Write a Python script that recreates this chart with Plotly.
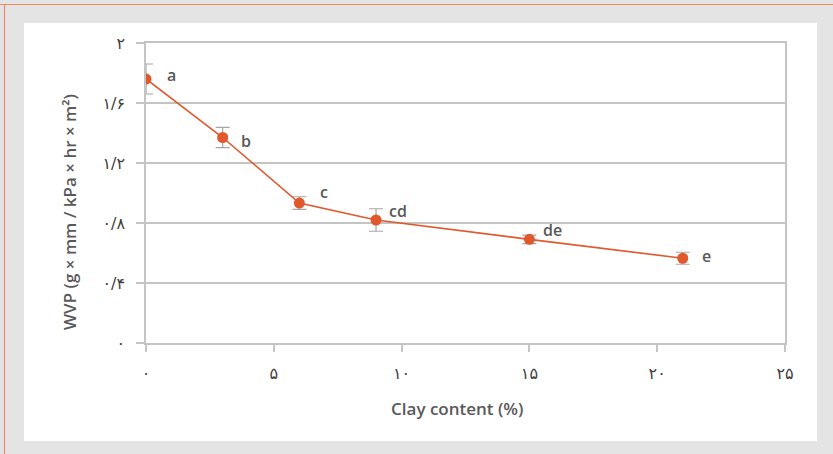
import plotly.graph_objects as go

clay = [0, 3, 6, 9, 15, 21]
wvp = [1.76, 1.37, 0.933, 0.82, 0.691, 0.565]
wvp_err = [0.10, 0.067, 0.042, 0.075, 0.028, 0.04]
letters = ["a", "b", "c", "cd", "de", "e"]
label_shift = [(25, 4), (23, -3), (25, 11), (22, 9), (23, 9), (24, 2)]

x_tickvals = [0, 5, 10, 15, 20, 25]
x_ticktext = ["۰", "۵", "۱۰", "۱۵", "۲۰", "۲۵"]
y_tickvals = [0, 0.4, 0.8, 1.2, 1.6, 2.0]
y_ticktext = ["۰", "۰/۴", "۰/۸", "۱/۲", "۱/۶", "۲"]
x_title = "Clay content (%)"
y_title = "WVP (g × mm / kPa × hr × m²)"

orange = "#e0582b"
grid = "#c4c4c4"
txt = "#595959"

fig = go.Figure()
fig.add_trace(go.Scatter(
    x=clay, y=wvp, mode="lines+markers",
    line=dict(color=orange, width=1.6),
    marker=dict(color=orange, size=11),
    error_y=dict(type="data", array=wvp_err, visible=True,
                 color="#a6a6a6", thickness=1.2, width=7),
    showlegend=False, hoverinfo="x+y",
))

for xv, yv, lab, (dx, dy) in zip(clay, wvp, letters, label_shift):
    fig.add_annotation(x=xv, y=yv, text=lab, showarrow=False,
                       xshift=dx, yshift=dy,
                       font=dict(family="Open Sans", size=16, color=txt, weight=600))

W, H = 833, 454
L, R, T, B = 146, 785, 43, 343
pw, ph = R - L, B - T

def px(xp):
    return (xp - L) / pw

def py(yp):
    return (B - yp) / ph

title_font = dict(family="Open Sans", size=17, color=txt, weight=600)
fig.add_annotation(xref="paper", yref="paper", x=px(457), y=py(408),
                   text=x_title, showarrow=False, font=title_font,
                   xanchor="center", yanchor="middle")
fig.add_annotation(xref="paper", yref="paper", x=px(69), y=py(212),
                   text=y_title, showarrow=False, font=title_font, textangle=-90,
                   xanchor="center", yanchor="middle")

shapes = [
    dict(type="rect", xref="paper", yref="paper", x0=px(24), x1=px(817),
         y0=py(441), y1=py(23), fillcolor="white", line=dict(width=0), layer="below"),
    dict(type="line", xref="paper", yref="paper", x0=px(0), x1=px(W),
         y0=py(4.5), y1=py(4.5), line=dict(color="#f2876a", width=1.2), layer="below"),
    dict(type="line", xref="paper", yref="paper", x0=px(4.5), x1=px(4.5),
         y0=py(H), y1=py(4.5), line=dict(color="#f2876a", width=1.2), layer="below"),
]

fig.update_layout(
    width=W, height=H,
    margin=dict(l=L, r=W - R, t=T, b=H - B, autoexpand=False),
    paper_bgcolor="#e4e4e4",
    plot_bgcolor="rgba(0,0,0,0)",
    shapes=shapes,
    font=dict(family="Open Sans", color=txt),
    xaxis=dict(
        range=[0, 25], tickvals=x_tickvals, ticktext=x_ticktext,
        showgrid=False, zeroline=False,
        showline=True, linecolor=grid, linewidth=1.5, mirror=True,
        ticks="outside", ticklen=7, tickcolor=grid, tickwidth=1.5,
        tickfont=dict(family="DejaVu Sans", size=16, color="#404040"),
        ticklabelstandoff=8,
    ),
    yaxis=dict(
        range=[0, 2], tickvals=y_tickvals, ticktext=y_ticktext,
        showgrid=True, gridcolor=grid, gridwidth=1.5, zeroline=False,
        showline=True, linecolor=grid, linewidth=1.5, mirror=True,
        ticks="outside", ticklen=8, tickcolor=grid, tickwidth=1.5,
        tickfont=dict(family="DejaVu Sans", size=16, color="#404040"),
        ticklabelstandoff=8,
    ),
)

fig.write_html("out.html", config={"displayModeBar": False},
               post_script="document.body.style.margin='0';document.body.style.overflow='hidden';")
